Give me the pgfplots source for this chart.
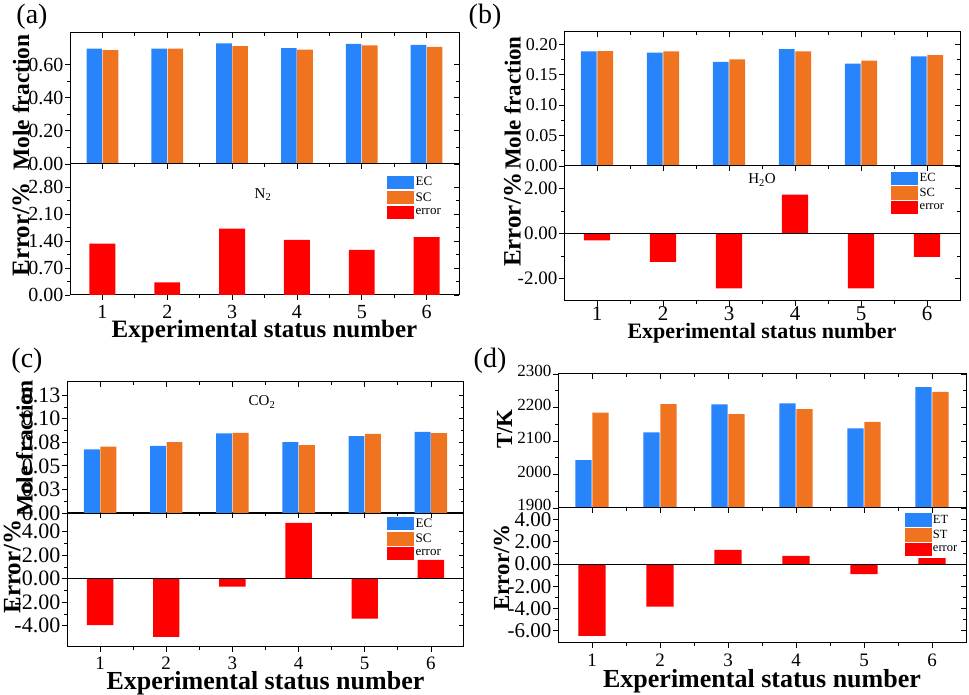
\documentclass[border=0pt]{standalone}
\usepackage{fontspec}
\setmainfont{Liberation Serif}
\usepackage{pgfplots}
\pgfplotsset{compat=1.18}
\definecolor{ecblue}{RGB}{40,132,250}
\definecolor{scorange}{RGB}{240,115,32}
\definecolor{errred}{RGB}{255,0,0}
\newcommand{\fs}[1]{\fontsize{#1}{#1}\selectfont}
\pgfplotsset{
  base/.style={scale only axis, anchor=south west, xmin=0.5, xmax=6.5,
    xtick={1,2,3,4,5,6}, minor xtick={1.5,2.5,3.5,4.5,5.5}, minor y tick num=1,
    axis line style={line width=1pt}, major tick length=5pt, minor tick length=3pt,
    every tick/.style={black, line width=0.8pt},
    /pgf/number format/assume math mode=true,
    xticklabel style={inner sep=1pt},
    yticklabel style={inner sep=1.5pt, /pgf/number format/fixed, /pgf/number format/fixed zerofill,
      /pgf/number format/precision=2, /pgf/number format/1000 sep={}}},
  front/.style={base, tick align=outside, ytick pos=left, xtick pos=bottom},
  back/.style={base, tick align=inside, ytick pos=right, xtick pos=top,
    xticklabels={}, yticklabels={}},
  ecbar/.style={ybar, bar width=0.24, bar shift=-0.125, fill=ecblue, draw=none, forget plot},
  scbar/.style={ybar, bar width=0.24, bar shift=0.125, fill=scorange, draw=none, forget plot},
  errbar/.style={ybar, bar width=0.4, bar shift=0, fill=errred, draw=none, forget plot},
  lgbox/.style={legend image code/.code={\fill[#1] (0pt,-6pt) rectangle (26pt,6.5pt);}},
  lg/.style={legend cell align=left, legend style={draw=none, fill=none, anchor=north west,
    inner sep=0pt, row sep=1pt, font=\fs{13}}},
  % panel geometries
  aup/.style={at={(70pt,531pt)}, width=389pt, height=131pt, ymin=0, ymax=0.79,
    ytick={0,0.2,0.4,0.6}, tick label style={font=\fs{20}}},
  alo/.style={at={(70pt,400pt)}, width=389pt, height=131pt, ymin=0, ymax=3.4,
    ytick={0,0.7,1.4,2.1,2.8}, tick label style={font=\fs{20}}, xticklabel style={yshift=-4pt}},
  bup/.style={at={(564pt,529pt)}, width=396pt, height=134pt, ymin=0, ymax=0.22,
    ytick={0,0.05,0.1,0.15,0.2}, tick label style={font=\fs{18}}},
  blo/.style={at={(564pt,394pt)}, width=396pt, height=135pt, ymin=-3, ymax=3,
    ytick={-2,0,2}, tick label style={font=\fs{19}}, xticklabel style={font=\fs{21}, yshift=0.5pt}},
  cup/.style={at={(67pt,182pt)}, width=397pt, height=131pt, ymin=0, ymax=0.139,
    ytick={0,0.025,0.05,0.075,0.1,0.125}, tick label style={font=\fs{22}}},
  clo/.style={at={(67pt,48pt)}, width=397pt, height=134pt, ymin=-5.8, ymax=5.6,
    ytick={-4,-2,0,2,4}, tick label style={font=\fs{22}}, xticklabel style={font=\fs{19}, yshift=-4pt}},
  dup/.style={at={(558pt,187pt)}, width=408pt, height=134pt, ymin=1900, ymax=2300,
    ytick={1900,2000,2100,2200,2300}, tick label style={font=\fs{17}},
    yticklabel style={yshift=3pt, /pgf/number format/precision=0}},
  dlo/.style={at={(558pt,52pt)}, width=408pt, height=135pt, ymin=-7.1, ymax=5.05,
    ytick={-6,-4,-2,0,2,4}, tick label style={font=\fs{21}}, xticklabel style={font=\fs{19}, yshift=-5pt}},
}
\begin{document}
\begin{tikzpicture}
\useasboundingbox (0pt,0pt) rectangle (969pt,695pt);
% ---------------- (a) ----------------
\begin{axis}[back, aup]\end{axis}
\begin{axis}[front, aup, xticklabels={},
  ylabel={Mole fraction}, ylabel style={font=\fs{23.5}\bfseries, at={(axis description cs:-0.126,0.47)}, anchor=center}]
\addplot[ecbar] coordinates {(1,0.695) (2,0.695) (3,0.727) (4,0.699) (5,0.725) (6,0.719)};
\addplot[scbar] coordinates {(1,0.687) (2,0.695) (3,0.711) (4,0.689) (5,0.715) (6,0.707)};
\end{axis}
\begin{axis}[back, alo]\end{axis}
\begin{axis}[front, alo, lg, legend style={at={(axis description cs:0.815,0.915)}},
  ylabel={Error/\%}, ylabel style={font=\fs{25}\bfseries, at={(axis description cs:-0.126,0.50)}, anchor=center},
  xlabel={Experimental status number}, xlabel style={font=\fs{25}\bfseries, at={(axis description cs:0.5,-0.28)}, anchor=center}]
\addlegendimage{lgbox=ecblue}\addlegendentry{EC}
\addlegendimage{lgbox=scorange}\addlegendentry{SC}
\addlegendimage{lgbox=errred}\addlegendentry{error}
\addplot[errbar] coordinates {(1,1.335) (2,0.33) (3,1.72) (4,1.43) (5,1.17) (6,1.50)};
\end{axis}
% ---------------- (b) ----------------
\begin{axis}[back, bup]\end{axis}
\begin{axis}[front, bup, xticklabels={},
  ylabel={Mole fraction}, ylabel style={font=\fs{23}\bfseries, at={(axis description cs:-0.130,0.47)}, anchor=center}]
\addplot[ecbar] coordinates {(1,0.188) (2,0.186) (3,0.171) (4,0.192) (5,0.168) (6,0.180)};
\addplot[scbar] coordinates {(1,0.1885) (2,0.188) (3,0.175) (4,0.188) (5,0.173) (6,0.182)};
\end{axis}
\begin{axis}[back, blo]\end{axis}
\begin{axis}[front, blo, lg, legend style={at={(axis description cs:0.826,0.962)}, font=\fs{12.5}},
  ylabel={Error/\%}, ylabel style={font=\fs{25}\bfseries, at={(axis description cs:-0.130,0.60)}, anchor=center},
  xlabel={Experimental status number}, xlabel style={font=\fs{22}\bfseries, at={(axis description cs:0.5,-0.24)}, anchor=center}]
\addlegendimage{lgbox=ecblue}\addlegendentry{EC}
\addlegendimage{lgbox=scorange}\addlegendentry{SC}
\addlegendimage{lgbox=errred}\addlegendentry{error}
\addplot[errbar] coordinates {(1,-0.31) (2,-1.26) (3,-2.44) (4,1.73) (5,-2.44) (6,-1.04)};
\draw[line width=0.8pt] (axis cs:0.5,0) -- (axis cs:6.5,0);
\end{axis}
% ---------------- (c) ----------------
\begin{axis}[back, cup]\end{axis}
\begin{axis}[front, cup, xticklabels={}, yticklabels={0.00,0.03,0.05,0.08,0.10,0.13},
  ylabel={Mole fraction}, ylabel style={font=\fs{23.5}\bfseries, at={(axis description cs:-0.107,0.49)}, anchor=center}]
\addplot[ecbar] coordinates {(1,0.0675) (2,0.0713) (3,0.0844) (4,0.0752) (5,0.0816) (6,0.0861)};
\addplot[scbar] coordinates {(1,0.0703) (2,0.0752) (3,0.0850) (4,0.0720) (5,0.0840) (6,0.0847)};
\end{axis}
\begin{axis}[back, clo]\end{axis}
\begin{axis}[front, clo, lg, legend style={at={(axis description cs:0.806,0.975)}},
  ylabel={Error/\%}, ylabel style={font=\fs{25}\bfseries, at={(axis description cs:-0.138,0.60)}, anchor=center},
  xlabel={Experimental status number}, xlabel style={font=\fs{26}\bfseries, at={(axis description cs:0.5,-0.272)}, anchor=center}]
\addlegendimage{lgbox=ecblue}\addlegendentry{EC}
\addlegendimage{lgbox=scorange}\addlegendentry{SC}
\addlegendimage{lgbox=errred}\addlegendentry{error}
\addplot[errbar] coordinates {(1,-3.93) (2,-4.93) (3,-0.66) (4,4.76) (5,-3.39) (6,1.62)};
\draw[line width=0.8pt] (axis cs:0.5,0) -- (axis cs:6.5,0);
\end{axis}
% ---------------- (d) ----------------
\begin{axis}[back, dup]\end{axis}
\begin{axis}[front, dup, xticklabels={},
  ylabel={T/K}, ylabel style={font=\fs{23}\bfseries, at={(axis description cs:-0.131,0.59)}, anchor=center}]
\addplot[ecbar] coordinates {(1,2043) (2,2126) (3,2209) (4,2212) (5,2138) (6,2261)};
\addplot[scbar] coordinates {(1,2185) (2,2210) (3,2180) (4,2195) (5,2157) (6,2247)};
\end{axis}
\begin{axis}[back, dlo]\end{axis}
\begin{axis}[front, dlo, lg, legend style={at={(axis description cs:0.849,0.962)}, font=\fs{12.5}},
  ylabel={Error/\%}, ylabel style={font=\fs{23}\bfseries, at={(axis description cs:-0.138,0.56)}, anchor=center},
  xlabel={Experimental status number}, xlabel style={font=\fs{26}\bfseries, at={(axis description cs:0.5,-0.28)}, anchor=center}]
\addlegendimage{lgbox=ecblue}\addlegendentry{ET}
\addlegendimage{lgbox=scorange}\addlegendentry{ST}
\addlegendimage{lgbox=errred}\addlegendentry{error}
\addplot[errbar] coordinates {(1,-6.46) (2,-3.82) (3,1.29) (4,0.75) (5,-0.90) (6,0.54)};
\draw[line width=0.8pt] (axis cs:0.5,0) -- (axis cs:6.5,0);
\end{axis}
% ---------------- panel letters and species ----------------
\node[font=\fs{28}] at (32pt,678pt) {(a)};
\node[font=\fs{28}] at (485pt,678pt) {(b)};
\node[font=\fs{28}] at (27pt,334pt) {(c)};
\node[font=\fs{28}] at (490pt,334pt) {(d)};
\node[font=\fs{15}] at (263pt,500pt) {N\textsubscript{2}};
\node[font=\fs{15}] at (762pt,515pt) {H\textsubscript{2}O};
\node[font=\fs{15}] at (262pt,293pt) {CO\textsubscript{2}};
\end{tikzpicture}
\end{document}
